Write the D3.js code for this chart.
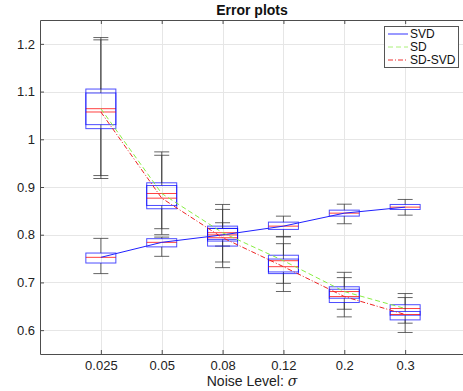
<!DOCTYPE html>
<html>
<head>
<meta charset="utf-8">
<script src="https://cdn.jsdelivr.net/npm/d3@7"></script>
<style>
  html, body { margin: 0; padding: 0; background: #fff; }
  svg { display: block; font-family: "Liberation Sans", Arial, sans-serif; }
</style>
</head>
<body>
<svg id="chart" width="463" height="391"></svg>
<script>
// categories (noise level)
const categories = ['0.025', '0.05', '0.08', '0.12', '0.2', '0.3'];
const yTicks = [0.6, 0.7, 0.8, 0.9, 1.0, 1.1, 1.2];

// SVD box stats
const svdLow  = [0.7185, 0.7547, 0.7762, 0.7955, 0.823, 0.841];
const svdQ1   = [0.7407, 0.7745, 0.7902, 0.8111, 0.839, 0.8529];
const svdMed  = [0.7526, 0.784, 0.7996, 0.818, 0.8452, 0.8578];
const svdQ3   = [0.7616, 0.7917, 0.8132, 0.8264, 0.8515, 0.8634];
const svdHigh = [0.7923, 0.795, 0.8251, 0.8389, 0.864, 0.8739];

// SD box stats
const sdLow  = [0.924, 0.8126, 0.7428, 0.698, 0.6438, 0.6146];
const sdQ1   = [1.0307, 0.8613, 0.7867, 0.722, 0.6669, 0.6313];
const sdMed  = [1.0641, 0.8864, 0.8042, 0.7455, 0.6809, 0.6453];
const sdQ3   = [1.1053, 0.9088, 0.818, 0.757, 0.6909, 0.6533];
const sdHigh = [1.2132, 0.9736, 0.8634, 0.7959, 0.7212, 0.6767];

// SD-SVD box stats
const sdsvdLow  = [0.9178, 0.80, 0.731, 0.681, 0.6278, 0.5951];
const sdsvdQ1   = [1.0223, 0.8544, 0.7762, 0.7185, 0.6579, 0.6215];
const sdsvdMed  = [1.0572, 0.8766, 0.7937, 0.733, 0.6704, 0.6328];
const sdsvdQ3   = [1.097, 0.9031, 0.8132, 0.749, 0.6857, 0.6391];
const sdsvdHigh = [1.2084, 0.9665, 0.853, 0.7812, 0.7101, 0.6683];

const series = [
  { name: 'SVD', low: svdLow, q1: svdQ1, med: svdMed, q3: svdQ3, high: svdHigh,
    color: '#2020ff', legendColor: '#9999ff', dash: null, legendWidth: 2 },
  { name: 'SD', low: sdLow, q1: sdQ1, med: sdMed, q3: sdQ3, high: sdHigh,
    color: '#88ee44', legendColor: '#aaf07a', dash: '5,3', legendWidth: 1 },
  { name: 'SD-SVD', low: sdsvdLow, q1: sdsvdQ1, med: sdsvdMed, q3: sdsvdQ3, high: sdsvdHigh,
    color: '#ee2222', legendColor: '#ee3333', dash: '5,2,1,2', legendWidth: 1 }
];

const svg = d3.select('#chart');
const margin = { left: 40, top: 20, right: 466, bottom: 354 };

// 1. Scales
const x = d3.scaleLinear().domain([0, categories.length + 1]).range([margin.left, margin.right]);
const y = d3.scaleLinear().domain([0.55, 1.25]).range([margin.bottom, margin.top]);
const idx = d3.range(1, categories.length + 1);

// 2. Grid
const grid = svg.append('g').attr('stroke', '#e6e6e6').attr('stroke-width', 1);
grid.selectAll('line.h').data(yTicks).join('line')
  .attr('x1', margin.left).attr('x2', margin.right)
  .attr('y1', d => Math.round(y(d)) + 0.5).attr('y2', d => Math.round(y(d)) + 0.5);
grid.selectAll('line.v').data(idx).join('line')
  .attr('y1', margin.top).attr('y2', margin.bottom)
  .attr('x1', d => Math.round(x(d)) + 0.5).attr('x2', d => Math.round(x(d)) + 0.5);

// 3. Box plots
const boxHalf = 15, capHalf = 7.5;
const boxes = svg.append('g');
series.forEach(s => {
  const g = boxes.append('g');
  const rows = idx.map((d, i) => ({ xi: d, low: s.low[i], q1: s.q1[i], med: s.med[i], q3: s.q3[i], high: s.high[i] }));

  // whiskers
  g.selectAll('line.wu').data(rows).join('line')
    .attr('x1', d => x(d.xi)).attr('x2', d => x(d.xi))
    .attr('y1', d => y(d.high)).attr('y2', d => y(d.q3))
    .attr('stroke', '#333').attr('stroke-opacity', 0.75);
  g.selectAll('line.wl').data(rows).join('line')
    .attr('x1', d => x(d.xi)).attr('x2', d => x(d.xi))
    .attr('y1', d => y(d.q1)).attr('y2', d => y(d.low))
    .attr('stroke', '#333').attr('stroke-opacity', 0.75);
  ['high', 'low'].forEach(k => {
    g.selectAll('line.cap-' + k).data(rows).join('line')
      .attr('x1', d => x(d.xi) - capHalf).attr('x2', d => x(d.xi) + capHalf)
      .attr('y1', d => y(d[k])).attr('y2', d => y(d[k]))
      .attr('stroke', '#333').attr('stroke-opacity', 0.75);
  });

  // box
  g.selectAll('rect').data(rows).join('rect')
    .attr('x', d => x(d.xi) - boxHalf)
    .attr('width', boxHalf * 2)
    .attr('y', d => y(d.q3))
    .attr('height', d => y(d.q1) - y(d.q3))
    .attr('fill', 'none')
    .attr('stroke', '#0000ff')
    .attr('stroke-opacity', 0.7);

  // median
  g.selectAll('line.med').data(rows).join('line')
    .attr('x1', d => x(d.xi) - boxHalf).attr('x2', d => x(d.xi) + boxHalf)
    .attr('y1', d => y(d.med)).attr('y2', d => y(d.med))
    .attr('stroke', '#ff0000').attr('stroke-opacity', 0.75);
});

// 4. Median lines
const line = d3.line().x((d, i) => x(i + 1)).y(d => y(d));
series.forEach(s => {
  svg.append('path')
    .attr('d', line(s.med))
    .attr('fill', 'none')
    .attr('stroke', s.color)
    .attr('stroke-width', 1)
    .attr('stroke-dasharray', s.dash);
});

// 5. Axes
const axisColor = '#4d4d4d';
const xAxis = svg.append('g').attr('transform', `translate(0,${margin.bottom})`)
  .call(d3.axisBottom(x).tickValues(idx).tickFormat(d => categories[d - 1]).tickSize(-4).tickPadding(7).tickSizeOuter(0));
const xAxisTop = svg.append('g').attr('transform', `translate(0,${margin.top})`)
  .call(d3.axisTop(x).tickValues(idx).tickFormat('').tickSize(-4).tickSizeOuter(0));
const yAxis = svg.append('g').attr('transform', `translate(${margin.left},0)`)
  .call(d3.axisLeft(y).tickValues(yTicks).tickFormat(d => d3.format('~g')(d)).tickSize(-4).tickPadding(5).tickSizeOuter(0));
[xAxis, xAxisTop, yAxis].forEach(a => {
  a.select('.domain').attr('stroke', axisColor);
  a.selectAll('.tick line').attr('stroke', axisColor);
  a.selectAll('.tick text').attr('fill', '#222').style('font-size', '13px');
});

// 6. Title and labels
svg.append('text')
  .attr('x', (margin.left + margin.right) / 2 - 1)
  .attr('y', 15)
  .attr('text-anchor', 'middle')
  .style('font-size', '14px')
  .style('font-weight', 'bold')
  .attr('fill', '#111')
  .text('Error plots');

const xl = svg.append('text')
  .attr('x', (margin.left + margin.right) / 2 - 1)
  .attr('y', 386)
  .attr('text-anchor', 'middle')
  .style('font-size', '14px')
  .attr('fill', '#222')
  .text('Noise Level: ');
xl.append('tspan').style('font-style', 'italic').style('font-family', '"DejaVu Serif", serif').text('σ');

// 7. Legend
const lg = svg.append('g');
lg.append('rect')
  .attr('x', 384.5).attr('y', 26.5)
  .attr('width', 74).attr('height', 41)
  .attr('fill', '#fff').attr('stroke', '#555');
const legendY = d3.scalePoint().domain(series.map(s => s.name)).range([34, 60]);
series.forEach(s => {
  const ly = legendY(s.name);
  lg.append('line')
    .attr('x1', 388).attr('x2', 408)
    .attr('y1', ly).attr('y2', ly)
    .attr('stroke', s.legendColor)
    .attr('stroke-width', s.legendWidth)
    .attr('stroke-dasharray', s.dash);
  lg.append('text')
    .attr('x', 410).attr('y', ly)
    .attr('dy', '0.35em')
    .style('font-size', '12px')
    .attr('fill', '#111')
    .text(s.name);
});
</script>
</body>
</html>
